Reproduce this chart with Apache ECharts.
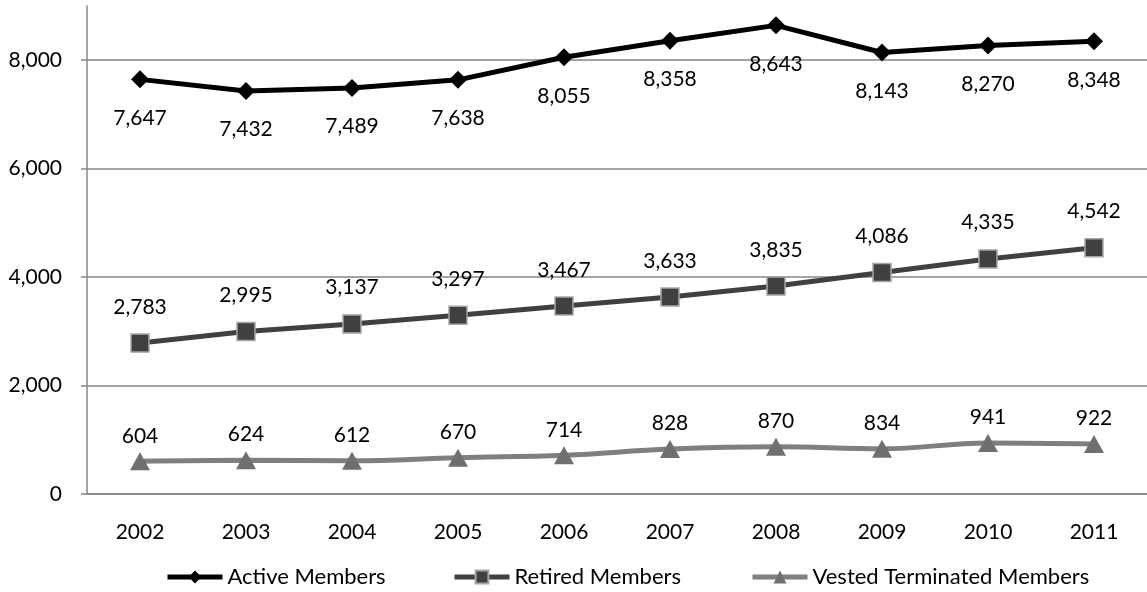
<!DOCTYPE html>
<html>
<head>
<meta charset="utf-8">
<script src="https://cdn.jsdelivr.net/npm/echarts@6/dist/echarts.min.js"></script>
<style>
  html, body { margin: 0; padding: 0; background: #fff; }
  #main { width: 1147px; height: 592px; }
</style>
</head>
<body>
<div id="main"></div>
<script>
// data
var years = ['2002', '2003', '2004', '2005', '2006', '2007', '2008', '2009', '2010', '2011'];
var activeMembers = [7647, 7432, 7489, 7638, 8055, 8358, 8643, 8143, 8270, 8348];
var retiredMembers = [2783, 2995, 3137, 3297, 3467, 3633, 3835, 4086, 4335, 4542];
var vestedTerminated = [604, 624, 612, 670, 714, 828, 870, 834, 941, 922];
var seriesNames = ['Active Members', 'Retired Members', 'Vested Terminated Members'];

var font = 'Lato, "Open Sans", sans-serif';
var fmt = function (v) { return echarts.format.addCommas(v); };

var myChart = echarts.init(document.getElementById('main'));

// one legend per item so each can sit where Excel put it
var legendLeft = [165, 452, 750];
var legends = seriesNames.map(function (name, i) {
    return {
        top: 566,
        left: legendLeft[i],
        padding: 0,
        itemWidth: 55,
        itemHeight: 16,
        lineStyle: { width: 5 },
        textStyle: { fontFamily: font, fontSize: 22, color: '#000' },
        data: [name]
    };
});

var labelOpt = function (pos, dist) {
    return {
        show: true, position: pos, distance: dist,
        fontSize: 21, color: '#000',
        formatter: function (p) { return fmt(p.value); }
    };
};

var option = {
    animation: false,
    textStyle: { fontFamily: font, color: '#000' },
    grid: { left: 87, right: 0, top: 6, bottom: 98 },
    legend: legends,
    xAxis: {
        type: 'category',
        data: years,
        axisLine: { lineStyle: { color: '#868686', width: 1.5 } },
        axisTick: { length: 6, lineStyle: { color: '#868686', width: 1.5 } },
        axisLabel: { fontSize: 21, color: '#000', margin: 28 }
    },
    yAxis: {
        type: 'value',
        min: 0,
        max: 9000,
        interval: 2000,
        axisLine: { show: true, lineStyle: { color: '#868686', width: 1.5 } },
        axisTick: { show: true, length: 6, lineStyle: { color: '#868686', width: 1.5 } },
        splitLine: { showMaxLine: false, lineStyle: { color: '#868686', width: 1.5 } },
        axisLabel: {
            fontSize: 21, color: '#000', margin: 25, showMaxLabel: false,
            formatter: function (v) { return v === 9000 ? '' : fmt(v); }
        }
    },
    series: [{
        name: seriesNames[0],
        type: 'line',
        data: activeMembers,
        symbol: 'diamond',
        symbolSize: 18,
        lineStyle: { color: '#000', width: 5 },
        itemStyle: { color: '#000' },
        label: labelOpt('bottom', 19),
        z: 4
    }, {
        name: seriesNames[1],
        type: 'line',
        data: retiredMembers,
        symbol: 'rect',
        symbolSize: 18,
        lineStyle: { color: '#404040', width: 5 },
        itemStyle: { color: '#404040', borderColor: '#a6a6a6', borderWidth: 1.5 },
        label: labelOpt('top', 16),
        z: 3
    }, {
        name: seriesNames[2],
        type: 'line',
        data: vestedTerminated,
        smooth: 0.4,
        symbol: 'triangle',
        symbolSize: [20, 18],
        lineStyle: { color: '#7f7f7f', width: 5 },
        itemStyle: { color: '#6f6f6f' },
        label: labelOpt('top', 6),
        z: 2
    }]
};

myChart.setOption(option);
</script>
</body>
</html>
